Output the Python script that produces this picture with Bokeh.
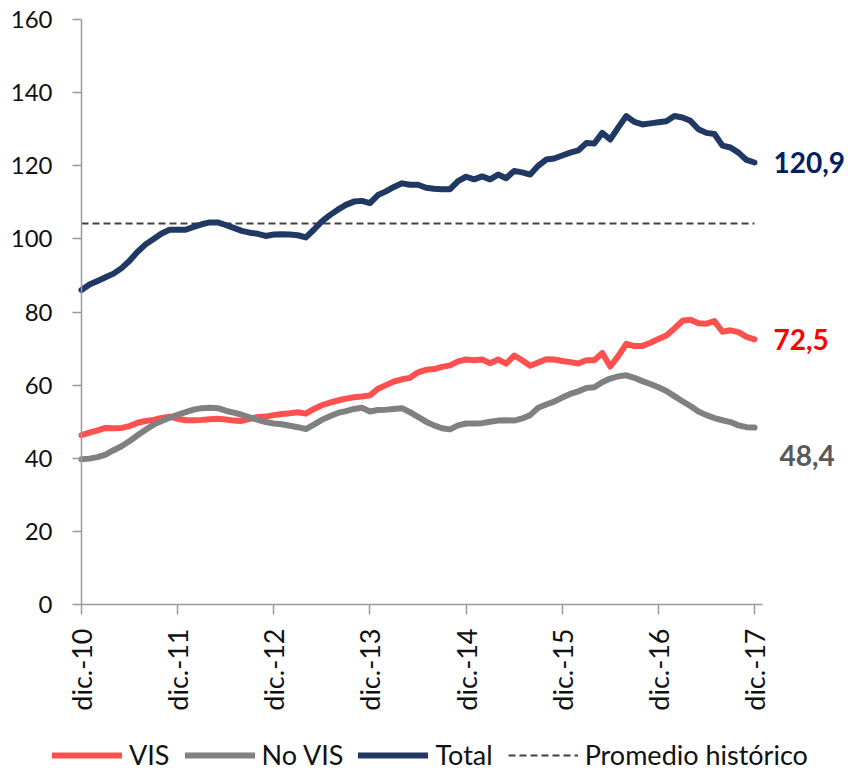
from bokeh.plotting import figure
from bokeh.models import Range1d, FixedTicker, Legend, LegendItem, Label
from bokeh.embed import file_html
from bokeh.resources import INLINE
from math import pi

# ---- data ----
meses = ["ene.", "feb.", "mar.", "abr.", "may.", "jun.", "jul.", "ago.", "sep.", "oct.", "nov.", "dic."]
fechas = ["dic.-10"] + [f"{meses[k % 12]}-{11 + k // 12}" for k in range(84)]
tick_labels = ["dic.-10", "dic.-11", "dic.-12", "dic.-13", "dic.-14", "dic.-15", "dic.-16", "dic.-17"]

vis = [46.3, 47.0, 47.6, 48.3, 48.2, 48.3, 48.8, 49.7, 50.2, 50.5,
       51.0, 51.4, 50.8, 50.4, 50.4, 50.5, 50.7, 50.8, 50.6, 50.3,
       50.2, 50.8, 51.3, 51.4, 51.8, 52.1, 52.3, 52.6, 52.2, 53.5,
       54.5, 55.2, 55.8, 56.3, 56.7, 56.9, 57.2, 59.0, 60.0, 61.0,
       61.6, 62.0, 63.5, 64.2, 64.4, 65.0, 65.4, 66.5, 67.0, 66.8,
       67.0, 66.0, 67.0, 65.9, 68.1, 66.8, 65.3, 66.2, 67.1, 67.0,
       66.6, 66.3, 65.9, 66.8, 66.8, 68.8, 65.1, 68.0, 71.3, 70.7,
       70.7, 71.6, 72.6, 73.6, 75.5, 77.6, 77.9, 76.9, 76.8, 77.5,
       74.6, 75.0, 74.5, 73.2, 72.5]

no_vis = [39.7, 39.9, 40.3, 41.0, 42.2, 43.3, 44.7, 46.3, 47.8, 49.2,
          50.2, 51.1, 51.9, 52.6, 53.3, 53.7, 53.8, 53.7, 53.0, 52.5,
          51.9, 51.2, 50.5, 49.9, 49.5, 49.3, 48.9, 48.5, 48.0, 49.2,
          50.5, 51.5, 52.4, 52.9, 53.5, 53.8, 52.8, 53.2, 53.3, 53.5,
          53.7, 52.6, 51.3, 50.0, 49.0, 48.2, 47.9, 49.0, 49.5, 49.5,
          49.6, 50.0, 50.3, 50.4, 50.3, 50.9, 51.8, 53.8, 54.7, 55.5,
          56.6, 57.6, 58.3, 59.2, 59.4, 60.8, 61.8, 62.4, 62.7, 62.0,
          61.1, 60.3, 59.4, 58.4, 57.0, 55.6, 54.3, 52.8, 51.8, 51.0,
          50.4, 49.9, 49.0, 48.5, 48.4]

total = [86.0, 87.5, 88.5, 89.5, 90.5, 92.0, 94.0, 96.5, 98.5, 100.0,
         101.5, 102.5, 102.5, 102.5, 103.3, 104.0, 104.5, 104.5, 103.8, 103.0,
         102.2, 101.7, 101.4, 100.8, 101.2, 101.3, 101.2, 101.0, 100.4, 102.5,
         104.8, 106.5, 108.0, 109.3, 110.2, 110.4, 109.8, 112.0, 113.0, 114.2,
         115.2, 114.8, 114.8, 114.0, 113.7, 113.6, 113.6, 115.8, 117.0, 116.3,
         117.1, 116.3, 117.6, 116.6, 118.6, 118.2, 117.6, 120.0, 121.7, 122.0,
         122.8, 123.6, 124.2, 126.2, 126.1, 129.0, 127.2, 130.5, 133.6, 132.0,
         131.3, 131.6, 131.9, 132.2, 133.6, 133.2, 132.3, 130.0, 129.0, 128.7,
         125.5, 125.0, 123.6, 121.6, 120.9]

promedio = 104.2
end_labels = ["72,5", "48,4", "120,9"]

# ---- figure ----
x = list(range(len(fechas)))
W, H = 846, 771
X0_PX, Y0_PX = 81.0, 604.0       # pixel position of (0, 0)
PX_MONTH, PX_UNIT = 8.012, 3.656  # pixels per month / per index unit
x_rng = Range1d(-X0_PX / PX_MONTH, (W - X0_PX) / PX_MONTH)
y_rng = Range1d(-(H - Y0_PX) / PX_UNIT, Y0_PX / PX_UNIT)

p = figure(width=W, height=H, output_backend="svg", toolbar_location=None,
           x_range=x_rng, y_range=y_rng,
           min_border_left=0, min_border_right=0, min_border_top=0, min_border_bottom=0)
p.outline_line_color = None
p.grid.visible = False
p.background_fill_color = "white"
p.border_fill_color = "white"

FONT = "Lato"
AX = "#9a9a9a"

p.yaxis.ticker = FixedTicker(ticks=list(range(0, 161, 20)))
p.xaxis.ticker = FixedTicker(ticks=[fechas.index(t) for t in tick_labels])
p.xaxis.major_label_overrides = {fechas.index(t): t for t in tick_labels}
p.xaxis.major_label_orientation = pi / 2
p.xaxis.bounds = (0, len(fechas))
p.yaxis.bounds = (0, 160)
p.xaxis.fixed_location = 0
p.yaxis.fixed_location = 0

for ax in (p.xaxis[0], p.yaxis[0]):
    ax.axis_line_color = AX
    ax.axis_line_width = 1.5
    ax.major_tick_line_color = AX
    ax.major_tick_line_width = 1.5
    ax.major_tick_in = 0
    ax.minor_tick_line_color = None
    ax.major_label_text_font = FONT
    ax.major_label_text_color = "#111111"
p.yaxis.major_tick_out = 9
p.yaxis.major_label_standoff = 20
p.yaxis.major_label_text_font_size = "24px"
p.xaxis.major_tick_out = 10
p.xaxis.major_label_standoff = 14
p.xaxis.major_label_text_font_size = "27px"

r_prom = p.line([x[0], x[-1]], [promedio, promedio], line_color="#404040",
                line_width=2, line_dash="7 4")
r_vis = p.line(x, vis, line_color="#FF5050", line_width=6,
               line_join="round", line_cap="round")
r_novis = p.line(x, no_vis, line_color="#808080", line_width=6,
                 line_join="round", line_cap="round")
r_total = p.line(x, total, line_color="#1F3864", line_width=6,
                 line_join="round", line_cap="round")

# end labels
p.add_layout(Label(x=x[-1], y=vis[-1], text=end_labels[0], x_offset=19, y_offset=0,
                   text_baseline="middle", text_font=FONT, text_font_style="bold",
                   text_font_size="28px", text_color="#FF0000"))
p.add_layout(Label(x=x[-1], y=no_vis[-1], text=end_labels[1], x_offset=25, y_offset=-28,
                   text_baseline="middle", text_font=FONT, text_font_style="bold",
                   text_font_size="28px", text_color="#595959"))
p.add_layout(Label(x=x[-1], y=total[-1], text=end_labels[2], x_offset=19, y_offset=0,
                   text_baseline="middle", text_font=FONT, text_font_style="bold",
                   text_font_size="28px", text_color="#002060"))

legend = Legend(items=[LegendItem(label="VIS", renderers=[r_vis]),
                       LegendItem(label="No VIS", renderers=[r_novis]),
                       LegendItem(label="Total", renderers=[r_total]),
                       LegendItem(label="Promedio histórico", renderers=[r_prom])],
                orientation="horizontal", location=(52, 0))
legend.glyph_width = 70
legend.glyph_height = 20
legend.label_standoff = 7
legend.spacing = 15
legend.padding = 0
legend.margin = 0
legend.border_line_color = None
legend.background_fill_alpha = 0
legend.label_text_font = FONT
legend.label_text_font_size = "27px"
legend.label_text_color = "#111111"
p.add_layout(legend)

open("out.html", "w").write(file_html(p, INLINE))
